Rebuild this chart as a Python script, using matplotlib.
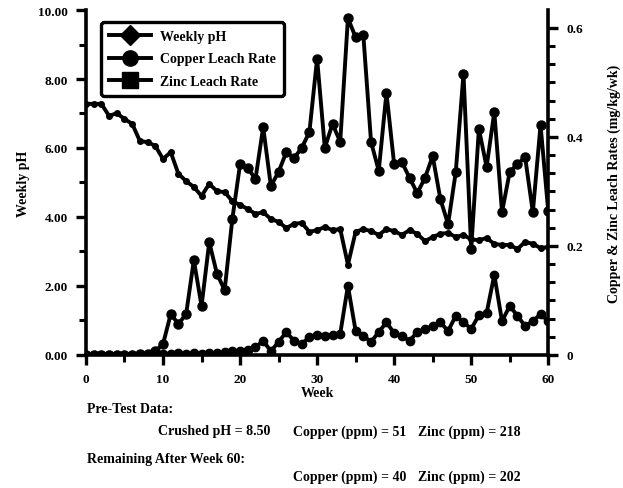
import matplotlib
matplotlib.use("Agg")
import matplotlib.pyplot as plt
from matplotlib.lines import Line2D
from matplotlib.ticker import MultipleLocator, FixedLocator, FuncFormatter

weeks = list(range(0, 61))

weekly_ph = [
    7.28, 7.28, 7.28, 6.93, 7.01, 6.84, 6.70, 6.20, 6.17, 6.06,
    5.68, 5.88, 5.25, 5.04, 4.87, 4.61, 4.96, 4.75, 4.72, 4.46,
    4.35, 4.23, 4.09, 4.14, 3.94, 3.86, 3.68, 3.80, 3.83, 3.57,
    3.62, 3.71, 3.62, 3.65, 2.62, 3.57, 3.65, 3.59, 3.48, 3.65,
    3.59, 3.48, 3.62, 3.51, 3.30, 3.42, 3.51, 3.54, 3.42, 3.48,
    3.35, 3.33, 3.39, 3.22, 3.19, 3.19, 3.07, 3.28, 3.22, 3.10,
    3.13,
]

copper_rate = [
    0.000, 0.000, 0.000, 0.000, 0.000, 0.000, 0.000, 0.000, 0.000, 0.000,
    0.002, 0.002, 0.003, 0.002, 0.003, 0.002, 0.004, 0.003, 0.005, 0.008,
    0.007, 0.010, 0.014, 0.026, 0.007, 0.024, 0.042, 0.026, 0.020, 0.033,
    0.037, 0.035, 0.037, 0.039, 0.127, 0.044, 0.035, 0.024, 0.042, 0.060,
    0.040, 0.035, 0.026, 0.042, 0.048, 0.053, 0.060, 0.044, 0.072, 0.060,
    0.048, 0.073, 0.077, 0.147, 0.062, 0.090, 0.072, 0.053, 0.062, 0.075,
    0.062,
]

zinc_rate = [
    0.000, 0.000, 0.000, 0.000, 0.000, 0.000, 0.000, 0.001, 0.002, 0.007,
    0.020, 0.075, 0.057, 0.075, 0.174, 0.090, 0.207, 0.149, 0.119, 0.250,
    0.350, 0.343, 0.323, 0.418, 0.310, 0.336, 0.372, 0.361, 0.380, 0.409,
    0.544, 0.380, 0.424, 0.391, 0.618, 0.583, 0.587, 0.391, 0.338, 0.481,
    0.350, 0.354, 0.325, 0.297, 0.325, 0.365, 0.286, 0.240, 0.336, 0.516,
    0.195, 0.415, 0.345, 0.446, 0.262, 0.336, 0.350, 0.363, 0.262, 0.422,
    0.264,
]

series_labels = ["Weekly pH", "Copper Leach Rate", "Zinc Leach Rate"]
ph_ticks = [0, 2, 4, 6, 8, 10]
rate_ticks = [0, 0.2, 0.4, 0.6]
rate_tick_labels = ["0", "0.2", "0.4", "0.6"]
week_ticks = [0, 10, 20, 30, 40, 50, 60]

plt.rcParams["font.family"] = ["Liberation Serif", "DejaVu Serif"]
plt.rcParams["font.weight"] = "bold"

fig = plt.figure(figsize=(6.23, 4.89), dpi=100)
ax = fig.add_axes([0.138, 0.272, 0.742, 0.7055])
ax2 = ax.twinx()

lw = 2.8
ax.plot(weeks, weekly_ph, color="black", lw=lw, marker="o", ms=4,
        zorder=3)
ax2.plot(weeks, copper_rate, color="black", lw=lw, marker="o", ms=6,
         zorder=3)
ax2.plot(weeks, zinc_rate, color="black", lw=lw, marker="o", ms=6.5,
         zorder=3)

ax.set_xlim(0, 60)
ax.set_ylim(0, 10)
ax2.set_ylim(0, 0.633)

ax.xaxis.set_major_locator(FixedLocator(week_ticks))
ax.xaxis.set_minor_locator(MultipleLocator(5))
ax.yaxis.set_major_locator(FixedLocator(ph_ticks))
ax.yaxis.set_minor_locator(MultipleLocator(1))
ax.yaxis.set_major_formatter(FuncFormatter(lambda v, p: f"{v:.2f}"))
ax2.yaxis.set_major_locator(FixedLocator(rate_ticks))
ax2.set_yticklabels(rate_tick_labels)
ax2.yaxis.set_minor_locator(MultipleLocator(0.2 / 6))

for a in (ax, ax2):
    a.spines["top"].set_visible(False)
    for side in ("left", "right", "bottom"):
        a.spines[side].set_linewidth(2.6)
    a.tick_params(which="major", length=7, width=2.4, labelsize=9.5, pad=6)
    a.tick_params(which="minor", length=5, width=2.2)
ax.spines["right"].set_visible(False)
ax2.spines["left"].set_visible(False)
ax2.spines["bottom"].set_visible(False)

ax.set_xlabel("Week", fontsize=10, fontweight="bold", labelpad=1)
ax.set_ylabel("Weekly pH", fontsize=10, fontweight="bold", labelpad=6)
ax2.set_ylabel("Copper & Zinc Leach Rates (mg/kg/wk)", fontsize=10,
               fontweight="bold", labelpad=18)

# legend entries: diamond, circle and square symbols
handles = [
    Line2D([], [], color="black", lw=lw, marker="D", ms=10),
    Line2D([], [], color="black", lw=lw, marker="o", ms=11),
    Line2D([], [], color="black", lw=lw, marker="s", ms=11),
]
leg = ax2.legend(handles, series_labels, loc="upper left",
                 bbox_to_anchor=(0.018, 0.985), frameon=True, fancybox=True,
                 edgecolor="black", facecolor="white", fontsize=10,
                 handlelength=3.0, borderpad=0.55,
                 labelspacing=0.7, handletextpad=0.7)
leg.get_frame().set_linewidth(2.4)
leg.get_frame().set_alpha(1)

# notes below the plot
fs = 10
notes = [
    (87, 410, "Pre-Test Data:"),
    (158, 432, "Crushed pH = 8.50"),
    (293, 432, "Copper (ppm) = 51"),
    (418, 432, "Zinc (ppm) = 218"),
    (87, 460, "Remaining After Week 60:"),
    (293, 477, "Copper (ppm) = 40"),
    (418, 477, "Zinc (ppm) = 202"),
]
for px, py, txt in notes:
    fig.text(px / 623, 1 - py / 489, txt, fontsize=fs, fontweight="bold",
             va="center")

fig.savefig("out.png", dpi=100)
